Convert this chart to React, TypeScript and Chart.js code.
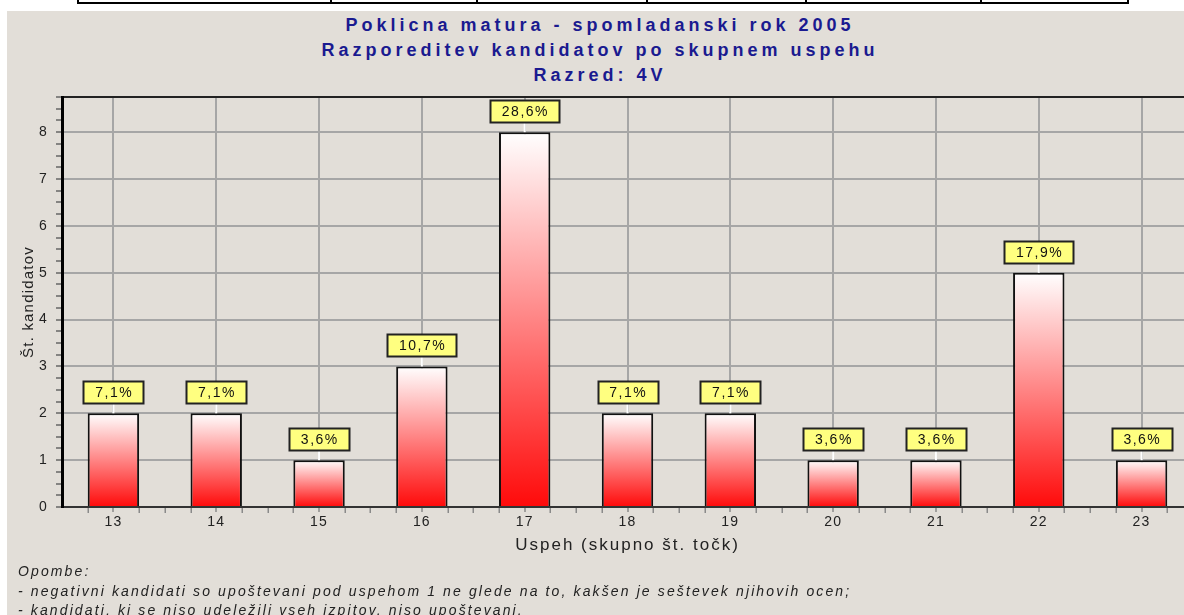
import React, { useEffect, useRef } from "react";
import { Chart, registerables } from "chart.js";

Chart.register(...registerables);

const categories = ["13", "14", "15", "16", "17", "18", "19", "20", "21", "22", "23"];
const candidateCounts = [2, 2, 1, 3, 8, 2, 2, 1, 1, 5, 1];
const percentLabels = ["7,1%", "7,1%", "3,6%", "10,7%", "28,6%", "7,1%", "7,1%", "3,6%", "3,6%", "17,9%", "3,6%"];
const titleLines = [
  "Poklicna matura - spomladanski rok 2005",
  "Razporeditev kandidatov po skupnem uspehu",
  "Razred: 4V",
];
const noteLines = [
  "Opombe:",
  "- negativni kandidati so upoštevani pod uspehom 1 ne glede na to, kakšen je seštevek njihovih ocen;",
  "- kandidati, ki se niso udeležili vseh izpitov, niso upoštevani.",
];
const xTitle = "Uspeh (skupno št. točk)";
const yTitle = "Št. kandidatov";
const tableDividers = [330, 476, 646, 805, 980];

const FONT = "'Liberation Sans', Arial, Helvetica, sans-serif";
const BG = "#e2ded8";
const GRID = "#a6a6a6";

const isInt = (v: number) => Math.abs(v - Math.round(v)) < 1e-9;

const labelPlugin = {
  id: "pctLabels",
  beforeDraw(chart: any) {
    const ctx = chart.ctx;
    ctx.letterSpacing = "1.2px";
    const xs = chart.scales.x;
    if (xs && !xs.__patched) {
      const orig = xs.drawTitle;
      xs.drawTitle = function (...args: any[]) {
        const c = this.ctx;
        c.save();
        c.letterSpacing = "2px";
        orig.apply(this, args);
        c.restore();
      };
      xs.__patched = true;
    }
  },
  afterDraw(chart: any) {
    // minor tick marks on the category axis (quarters of a category band)
    const ctx = chart.ctx;
    const xs = chart.scales.x;
    const n = categories.length;
    const band = xs.getPixelForValue(1) - xs.getPixelForValue(0);
    const yTop = xs.top;
    ctx.save();
    ctx.strokeStyle = "#8a8a8a";
    ctx.lineWidth = 1.5;
    ctx.beginPath();
    for (let i = 0; i < n; i++) {
      const c = xs.getPixelForValue(i);
      for (const f of [-0.5, -0.25, 0.25]) {
        const px = Math.round(c + f * band) + 0.25;
        if (px < chart.chartArea.left + 2) continue;
        ctx.moveTo(px, yTop + 1);
        ctx.lineTo(px, yTop + 6);
      }
    }
    ctx.stroke();
    ctx.restore();
  },
  afterDatasetsDraw(chart: any) {
    const ctx = chart.ctx;
    const meta = chart.getDatasetMeta(0);
    ctx.save();
    ctx.letterSpacing = "1.5px";
    ctx.font = `14px ${FONT}`;
    ctx.textAlign = "center";
    ctx.textBaseline = "middle";
    meta.data.forEach((el: any, i: number) => {
      const text = percentLabels[i];
      const x = el.x;
      const top = el.y;
      const w = Math.round(ctx.measureText(text).width + 22);
      const h = 22;
      const boxBottom = top - 10;
      ctx.strokeStyle = "#ffffff";
      ctx.lineWidth = 2;
      ctx.beginPath();
      ctx.moveTo(x, top);
      ctx.lineTo(x, boxBottom);
      ctx.stroke();
      const bx = Math.round(x - w / 2) + 0.5;
      const by = Math.round(boxBottom - h) + 0.5;
      ctx.fillStyle = "#ffff80";
      ctx.fillRect(bx, by, w, h);
      ctx.strokeStyle = "#222222";
      ctx.lineWidth = 2;
      ctx.strokeRect(bx, by, w, h);
      ctx.fillStyle = "#111111";
      ctx.fillText(text, x + 0.75, by + h / 2 + 1);
    });
    ctx.restore();
  },
};

export default function App() {
  const canvasRef = useRef<HTMLCanvasElement | null>(null);

  useEffect(() => {
    if (!canvasRef.current) return;
    const chart = new Chart(canvasRef.current, {
      type: "bar",
      data: {
        labels: categories,
        datasets: [
          {
            label: yTitle,
            data: candidateCounts,
            barPercentage: 0.5,
            categoryPercentage: 1,
            borderColor: "#111111",
            borderWidth: 2,
            backgroundColor: (c: any) => {
              const ch = c.chart;
              const ys = ch.scales && ch.scales.y;
              if (!ys || !ch.chartArea || typeof c.raw !== "number") return "#ff4040";
              const top = ys.getPixelForValue(c.raw);
              const bottom = ys.getPixelForValue(0);
              const g = ch.ctx.createLinearGradient(0, top, 0, bottom);
              g.addColorStop(0, "#ffffff");
              g.addColorStop(1, "#ff0a0a");
              return g;
            },
          },
        ],
      },
      options: {
        animation: false,
        responsive: false,
        maintainAspectRatio: false,
        layout: { padding: { top: 86, right: 14, bottom: 0, left: 0 } },
        plugins: {
          legend: { display: false },
          tooltip: { enabled: false },
          title: { display: false },
        },
        scales: {
          x: {
            type: "category",
            offset: true,
            afterFit: (s: any) => {
              s.height = 64;
            },
            ticks: {
              autoSkip: false,
              maxRotation: 0,
              padding: 2,
              color: "#222222",
              font: { family: FONT, size: 14 },
            },
            grid: {
              offset: false,
              drawTicks: true,
              tickLength: 5,
              color: GRID,
              lineWidth: 2,
              tickColor: "#8a8a8a",
              tickWidth: 1.5,
            },
            border: { color: "#333333", width: 2 },
            title: {
              display: true,
              text: xTitle,
              color: "#222222",
              font: { family: FONT, size: 17 },
              padding: { top: 0, bottom: 15 },
            },
          },
          y: {
            type: "linear",
            min: 0,
            max: 8.75,
            afterFit: (s: any) => {
              s.width = 55;
            },
            ticks: {
              stepSize: 0.25,
              autoSkip: false,
              padding: 8,
              color: "#222222",
              font: { family: FONT, size: 14 },
              callback: (v: any) => (isInt(Number(v)) ? String(v) : ""),
            },
            grid: {
              drawTicks: true,
              tickLength: 6,
              color: (c: any) => {
                const v = c.tick ? c.tick.value : 0;
                if (Math.abs(v - 8.75) < 1e-9) return "#222222";
                if (v === 0) return "rgba(0,0,0,0)";
                return isInt(v) ? GRID : "rgba(0,0,0,0)";
              },
              lineWidth: 2,
              tickColor: "#666666",
              tickWidth: 1.5,
            },
            border: { color: "#000000", width: 3 },
            title: {
              display: true,
              text: yTitle,
              color: "#222222",
              font: { family: FONT, size: 15 },
              padding: { top: 13, bottom: 0 },
            },
          },
        },
      },
      plugins: [labelPlugin],
    });
    return () => chart.destroy();
  }, []);

  return (
    <div
      style={{
        position: "fixed",
        left: 0,
        top: 0,
        width: 1184,
        height: 615,
        overflow: "hidden",
        background: "#ffffff",
      }}
    >
      <div
        style={{
          position: "absolute",
          left: 77,
          top: -12,
          width: 1052,
          height: 16,
          boxSizing: "border-box",
          border: "2px solid #000",
        }}
      />
      {tableDividers.map((x) => (
        <div
          key={x}
          style={{ position: "absolute", left: x, top: 0, width: 2, height: 4, background: "#000" }}
        />
      ))}
      <div
        style={{
          position: "absolute",
          left: 7,
          top: 11,
          width: 1200,
          height: 610,
          background: BG,
        }}
      >
        <div
          style={{
            position: "absolute",
            left: 0,
            top: 2,
            width: 1186,
            textAlign: "center",
            fontFamily: FONT,
            fontWeight: "bold",
            fontSize: 18,
            lineHeight: "25px",
            letterSpacing: "4px",
            color: "#1a1a90",
            whiteSpace: "nowrap",
          }}
        >
          {titleLines.map((t) => (
            <div key={t}>{t}</div>
          ))}
        </div>
        <canvas
          ref={canvasRef}
          width={1200}
          height={560}
          style={{ position: "absolute", left: 0, top: 0, width: 1200, height: 560 }}
        />
        <div
          style={{
            position: "absolute",
            left: 11,
            top: 551,
            fontFamily: FONT,
            fontStyle: "italic",
            fontSize: 14,
            lineHeight: "19.5px",
            letterSpacing: "2.12px",
            color: "#222222",
            whiteSpace: "nowrap",
          }}
        >
          {noteLines.map((t) => (
            <div key={t}>{t}</div>
          ))}
        </div>
      </div>
    </div>
  );
}
